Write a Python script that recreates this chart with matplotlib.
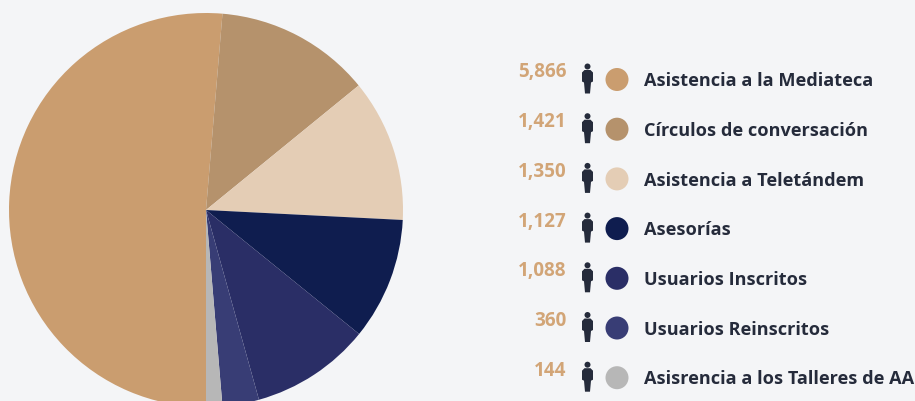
import matplotlib
matplotlib.use("Agg")
import matplotlib.pyplot as plt
from matplotlib.patches import Circle, Polygon

plt.rcParams['font.family'] = ['Open Sans', 'DejaVu Sans']

labels = ["Asistencia a la Mediateca", "Círculos de conversación", "Asistencia a Teletándem",
          "Asesorías", "Usuarios Inscritos", "Usuarios Reinscritos", "Asisrencia a los Talleres de AA"]
value_labels = ["5,866", "1,421", "1,350", "1,127", "1,088", "360", "144"]
# slice sizes in degrees (they differ a little from the printed counts)
slice_degrees = [184.8, 46.0, 42.1, 36.1, 35.4, 10.8, 4.8]
colors = ["#CA9D6F", "#B5926C", "#E4CDB5", "#0F1D4F", "#2A2E66", "#383D75", "#B7B7B7"]

bg = "#F4F5F7"
dark = "#252B3B"
W, H = 915, 402

fig = plt.figure(figsize=(W / 100, H / 100), dpi=100, facecolor=bg)
# whole figure is one axes in pixels, y flipped back by hand
ax = fig.add_axes([0, 0, 1, 1])

ax.pie(slice_degrees, colors=colors, startangle=270, counterclock=False,
       center=(206, H - 211), radius=197, frame=True)
ax.set_xlim(0, W)
ax.set_ylim(0, H)
ax.set_aspect("auto")
ax.axis("off")


def person(cx, cy):
    ax.add_patch(Circle((cx, H - (cy - 13)), 3, color=dark, lw=0))
    body = [(-3, -9.5), (3, -9.5), (5.5, -7), (5.5, 2), (3.5, 3), (2.5, 14), (-2.5, 14), (-3.5, 3), (-5.5, 2), (-5.5, -7)]
    ax.add_patch(Polygon([(cx + x, H - (cy + y)) for x, y in body], closed=True, color=dark, lw=0))


for i in range(len(labels)):
    y = 80.5 + i * 49.7
    ax.text(566.5, H - (y - 8), value_labels[i], ha="right", va="center", fontsize=13.6,
            fontweight="bold", color="#D2A577")
    person(587.5, y)
    ax.add_patch(Circle((617, H - y), 11.5, color=colors[i], lw=0))
    ax.text(644, H - (y + 0.7), labels[i], ha="left", va="center", fontsize=13.1,
            fontweight="bold", color=dark)

fig.savefig("out.png", dpi=100, facecolor=bg)
